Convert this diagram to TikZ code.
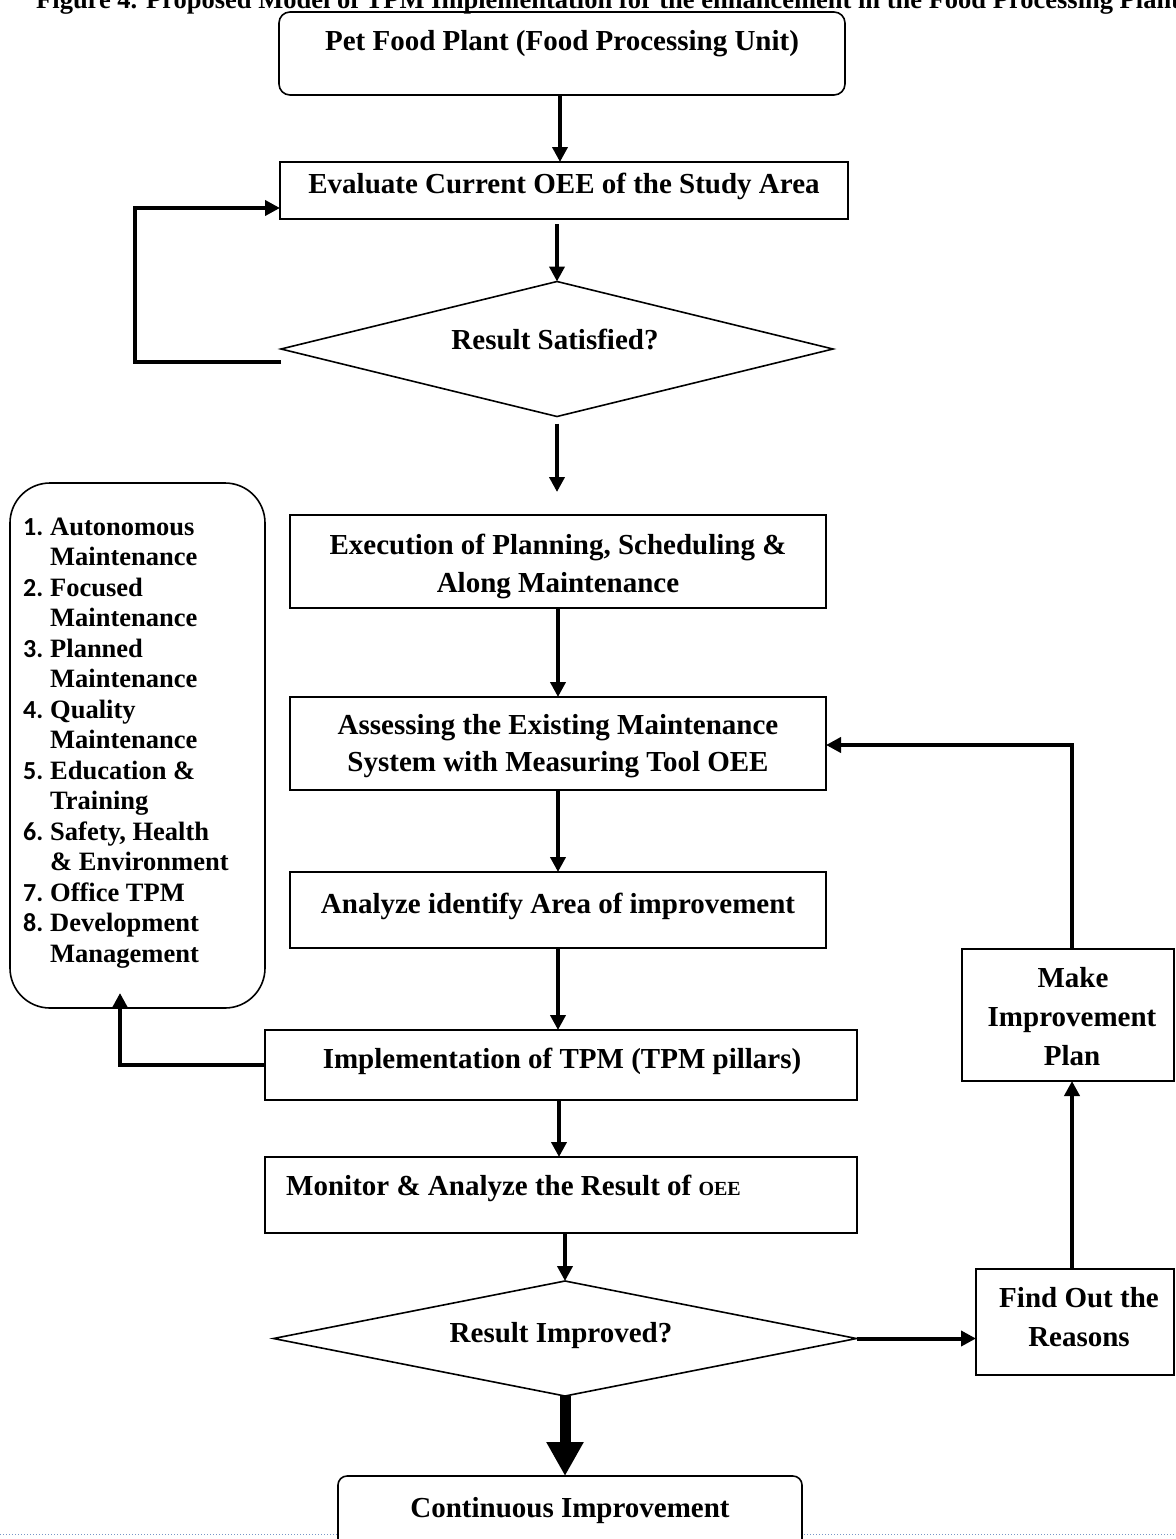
\documentclass[tikz,border=0pt]{standalone}
\usepackage{fontspec}
\setmainfont{Liberation Serif}
\newfontfamily\numfont{Carlito}
\usetikzlibrary{shapes.geometric,arrows.meta}
\tikzset{
 box/.style={draw, line width=1.6pt, rectangle, inner sep=0pt, outer sep=0pt},
 dia/.style={draw, line width=1.6pt, diamond, inner sep=0pt, outer sep=0pt},
 lbl/.style={font=\bfseries\fontsize{29}{33}\selectfont, anchor=base, inner sep=0pt},
 lst/.style={font=\bfseries\fontsize{26.5}{29}\selectfont, anchor=base west, inner sep=0pt},
 num/.style={font=\numfont\bfseries\fontsize{26}{29}\selectfont, anchor=base west, inner sep=0pt},
 arr/.style={line width=4pt, -{Triangle[width=15pt,length=15pt]}},
 bigarr/.style={line width=11pt, -{Triangle[width=35pt,length=34pt]}},
}
\begin{document}
\begin{tikzpicture}[x=1pt,y=-1pt]
\useasboundingbox (0,0) rectangle (1175,1539);
\fill[white] (0,0) rectangle (1175,1539);
\clip (0,0) rectangle (1175,1539);
% title
\node[font=\bfseries\fontsize{26.5}{29}\selectfont, anchor=base west, inner sep=0pt] (title) at (36,9) {Figure 4. Proposed Model of TPM Implementation for the enhancement in the Food Processing Plant};
% page separator
\draw[dotted, line width=1pt, color={rgb,255:red,120;green,150;blue,200}] (0,1534) -- (1175,1534);
% main flow boxes
\node[box, rounded corners=11pt, minimum width=566pt, minimum height=83pt] (pet) at (562,53.5) {};
\node[lbl] (petT) at (562,50) {Pet Food Plant (Food Processing Unit)};
\node[box, minimum width=568pt, minimum height=57pt] (eval) at (564,190.5) {};
\node[lbl] (evalT) at (564,193) {Evaluate Current OEE of the Study Area};
\node[dia, minimum width=552pt, minimum height=135pt] (sat) at (557,349) {};
\node[lbl] (satT) at (555,349) {Result Satisfied?};
\node[box, minimum width=536pt, minimum height=93pt] (exec) at (558,561.5) {};
\node[lbl] (execT1) at (558,554) {Execution of Planning, Scheduling \&};
\node[lbl] (execT2) at (558,592) {Along Maintenance};
\node[box, minimum width=536pt, minimum height=93pt] (assess) at (558,743.5) {};
\node[lbl] (assessT1) at (558,734) {Assessing the Existing Maintenance};
\node[lbl] (assessT2) at (558,771) {System with Measuring Tool OEE};
\node[box, minimum width=536pt, minimum height=76pt] (analyze) at (558,910) {};
\node[lbl] (analyzeT) at (558,913) {Analyze identify Area of improvement};
\node[box, minimum width=592pt, minimum height=70pt] (impl) at (561,1065) {};
\node[lbl] (implT) at (562,1068) {Implementation of TPM (TPM pillars)};
\node[box, minimum width=592pt, minimum height=76pt] (monitor) at (561,1195) {};
\node[lbl, anchor=base west] (monitorT) at (286,1195) {Monitor \& Analyze the Result of {\fontsize{20}{22}\selectfont OEE}};
\node[dia, minimum width=583pt, minimum height=115pt] (imp) at (565,1338.5) {};
\node[lbl] (impT) at (561,1342) {Result Improved?};
\node[box, fill=white, rounded corners=9pt, minimum width=464pt, minimum height=124pt] (cont) at (570,1538) {};
\node[lbl] (contT) at (570,1517) {Continuous Improvement};
% right boxes
\node[box, minimum width=198pt, minimum height=106pt] (find) at (1075,1322) {};
\node[lbl] (findT1) at (1079,1307) {Find Out the};
\node[lbl] (findT2) at (1079,1346) {Reasons};
\node[box, minimum width=212pt, minimum height=132pt] (make) at (1068,1015) {};
\node[lbl] (makeT1) at (1073,987) {Make};
\node[lbl] (makeT2) at (1072,1026) {Improvement};
\node[lbl] (makeT3) at (1072,1065) {Plan};
% pillars list
\node[box, rounded corners=40pt, minimum width=255pt, minimum height=525pt] (list) at (137.5,745.5) {};
\foreach \k/\t in {0/Autonomous,1/Maintenance,2/Focused,3/Maintenance,4/Planned,5/Maintenance,6/Quality,7/Maintenance,8/{Education \&},9/Training,10/{Safety, Health},11/{\& Environment},12/{Office TPM},13/Development,14/Management}
  \node[lst] (li\k) at (50,535+30.5*\k) {\t};
\foreach \k/\m in {0/1,2/2,4/3,6/4,8/5,10/6,12/7,13/8}
  \node[num] (ln\m) at (23,535+30.5*\k) {\m.};
% connectors
\draw[arr] ([xshift=-2pt]pet.south) -- ([xshift=-4pt]eval.north);
\draw[arr, shorten <=5pt] (eval.south -| sat.north) -- (sat.north);
\draw[arr] ([yshift=-13pt]sat.west) -- ++(-146,0) |- ([yshift=-17.5pt]eval.west);
\draw[arr, shorten <=7pt, shorten >=23pt] (sat.south) -- (sat.south |- exec.north);
\draw[arr] (exec.south) -- (assess.north);
\draw[arr] (assess.south) -- (analyze.north);
\draw[arr] (analyze.south) -- (analyze.south |- impl.north);
\draw[arr] ([xshift=-2pt]impl.south) -- ([xshift=-2pt]monitor.north);
\draw[arr] (monitor.south -| imp.north) -- (imp.north);
\draw[bigarr] (imp.south) -- (imp.south |- cont.north);
\draw[arr] (imp.east) -- (imp.east -| find.west);
\draw[arr] ([xshift=-3pt]find.north) -- ([xshift=4pt]make.south);
\draw[arr] ([xshift=4pt]make.north) |- ([yshift=-1.5pt]assess.east);
\coordinate (listin) at (120,993);
\draw[arr] (impl.west) -| (listin);
\end{tikzpicture}
\end{document}
